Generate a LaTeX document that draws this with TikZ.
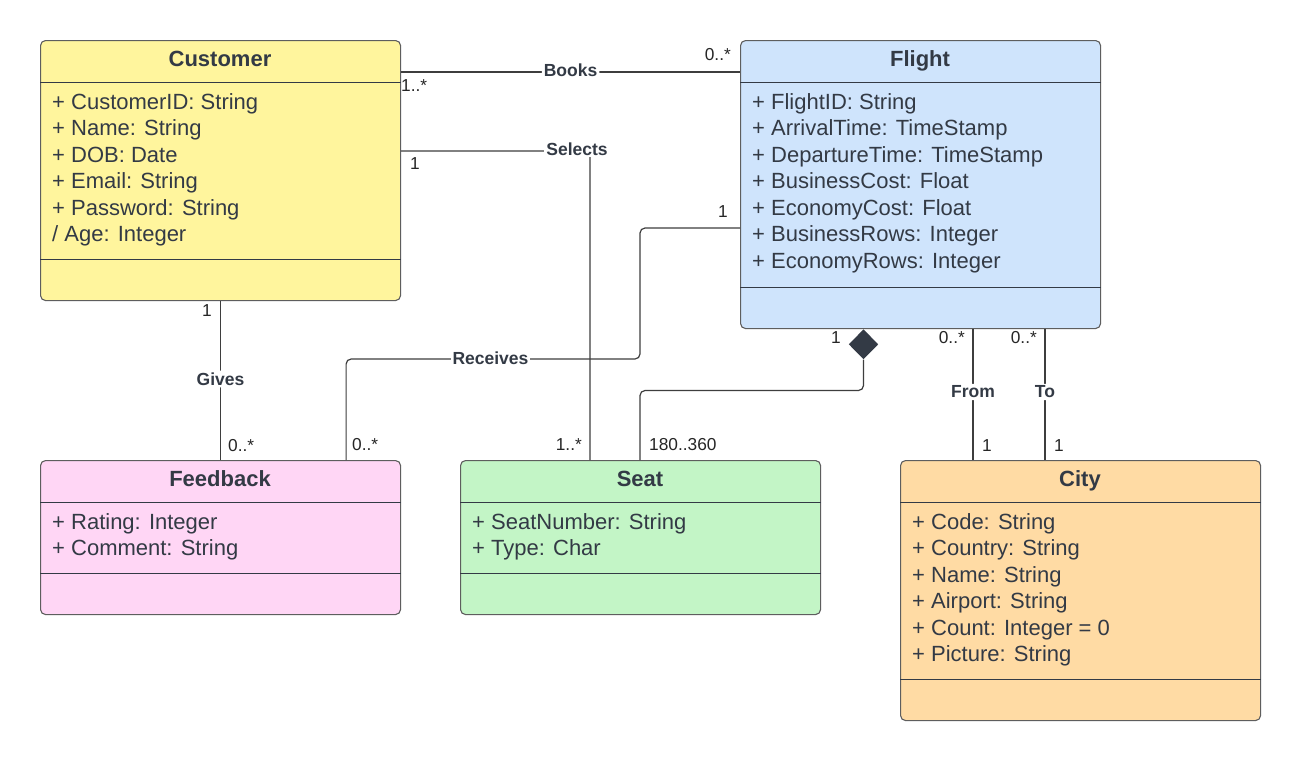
\documentclass[tikz,border=0pt]{standalone}
\usepackage{fontspec}
\setmainfont{Liberation Sans}
\usetikzlibrary{calc,shapes.geometric}
\definecolor{txt}{RGB}{51,58,69}
\definecolor{edgec}{RGB}{94,94,94}
\definecolor{lnk}{RGB}{62,62,62}
\definecolor{custfill}{RGB}{255,245,157}
\definecolor{flightfill}{RGB}{207,228,252}
\definecolor{fbfill}{RGB}{255,214,245}
\definecolor{seatfill}{RGB}{195,245,198}
\definecolor{cityfill}{RGB}{255,219,164}
\begin{document}
\begin{tikzpicture}[x=1pt,y=-1pt,
  classbox/.style={draw=edgec, line width=1.1pt, rounded corners=5pt, anchor=north west, inner sep=0pt},
  sepline/.style={draw=txt, line width=1pt},
  title/.style={font=\bfseries\fontsize{22}{26}\selectfont, text=txt, anchor=base, inner sep=0pt},
  attr/.style={font=\fontsize{22}{26}\selectfont, text=txt, anchor=base west, inner sep=0pt},
  assoc/.style={draw=lnk, line width=1.2pt, rounded corners=5pt},
  lbl/.style={font=\bfseries\fontsize{17.5}{20}\selectfont, text=txt, fill=white, inner sep=2pt},
  mult/.style={font=\fontsize{17.3}{20}\selectfont, text=black!85, inner sep=0pt}
]
\useasboundingbox[fill=white] (0,0) rectangle (1300,761);

% ---------- Customer ----------
\node[classbox, fill=custfill, minimum width=360pt, minimum height=260pt] (cust) at (40,40) {};
\draw[sepline] ([yshift=-42pt]cust.north west) -- ([yshift=-42pt]cust.north east);
\draw[sepline] ([yshift=42pt]cust.south west) -- ([yshift=42pt]cust.south east);
\node[title] (custT) at (220,66) {Customer};
\foreach \t [count=\i from 0] in {{+ CustomerID: String},{+ Name: String},{+ DOB: Date},{+ Email: String},{+ Password: String},{/ Age: Integer}}
  \node[attr] (custA\i) at (52,{109.3+26.45*\i}) {\t};

% ---------- Flight ----------
\node[classbox, fill=flightfill, minimum width=360pt, minimum height=288pt] (flight) at (740,40) {};
\draw[sepline] ([yshift=-42pt]flight.north west) -- ([yshift=-42pt]flight.north east);
\draw[sepline] ([yshift=42pt]flight.south west) -- ([yshift=42pt]flight.south east);
\node[title] (flightT) at (920,66) {Flight};
\foreach \t [count=\i from 0] in {{+ FlightID: String},{+ ArrivalTime: TimeStamp},{+ DepartureTime: TimeStamp},{+ BusinessCost: Float},{+ EconomyCost: Float},{+ BusinessRows: Integer},{+ EconomyRows: Integer}}
  \node[attr] (flightA\i) at (752,{109.3+26.45*\i}) {\t};

% ---------- Feedback ----------
\node[classbox, fill=fbfill, minimum width=360pt, minimum height=154pt] (fb) at (40,460) {};
\draw[sepline] ([yshift=-42pt]fb.north west) -- ([yshift=-42pt]fb.north east);
\draw[sepline] ([yshift=42pt]fb.south west) -- ([yshift=42pt]fb.south east);
\node[title] (fbT) at (220,486) {Feedback};
\foreach \t [count=\i from 0] in {{+ Rating: Integer},{+ Comment: String}}
  \node[attr] (fbA\i) at (52,{529.3+26.45*\i}) {\t};

% ---------- Seat ----------
\node[classbox, fill=seatfill, minimum width=360pt, minimum height=154pt] (seat) at (460,460) {};
\draw[sepline] ([yshift=-42pt]seat.north west) -- ([yshift=-42pt]seat.north east);
\draw[sepline] ([yshift=42pt]seat.south west) -- ([yshift=42pt]seat.south east);
\node[title] (seatT) at (640,486) {Seat};
\foreach \t [count=\i from 0] in {{+ SeatNumber: String},{+ Type: Char}}
  \node[attr] (seatA\i) at (472,{529.3+26.45*\i}) {\t};

% ---------- City ----------
\node[classbox, fill=cityfill, minimum width=360pt, minimum height=260pt] (city) at (900,460) {};
\draw[sepline] ([yshift=-42pt]city.north west) -- ([yshift=-42pt]city.north east);
\draw[sepline] ([yshift=42pt]city.south west) -- ([yshift=42pt]city.south east);
\node[title] (cityT) at (1080,486) {City};
\foreach \t [count=\i from 0] in {{+ Code: String},{+ Country: String},{+ Name: String},{+ Airport: String},{+ Count: Integer = 0},{+ Picture: String}}
  \node[attr] (cityA\i) at (912,{529.3+26.45*\i}) {\t};

% ---------- Connectors ----------
% Books
\draw[assoc] ([yshift=-32pt]cust.north east) -- node[lbl, yshift=1.5pt] (books) {Books} ([yshift=-32pt]flight.north west);
\node[mult, anchor=base west] (m1) at (401,91) {1..*};
\node[mult, anchor=base east] (m2) at (731,60) {0..*};

% Selects
\draw[assoc] ([yshift=-111pt]cust.north east) -| ([xshift=130pt]seat.north west);
\node[lbl] (selects) at (577,149) {Selects};
\node[mult, anchor=base west] (m3) at (410,169) {1};
\node[mult, anchor=base east] (m4) at (582,450) {1..*};

% Receives
\coordinate (rcv) at (640,359);
\draw[assoc] ([yshift=-188pt]flight.north west) -| (rcv) -| ([xshift=-55pt]fb.north east);
\node[lbl] (receives) at (490.5,358) {Receives};
\node[mult, anchor=base east] (m5) at (728,217) {1};
\node[mult, anchor=base west] (m6) at (352,450) {0..*};

% Composition
\node[diamond, fill=txt, minimum width=29.5pt, minimum height=30pt, inner sep=0pt] (dia) at (863.5,344.3) {};
\draw[assoc] (dia.south) -- ++(0,31) -| ([xshift=180pt]seat.north west);
\node[mult, anchor=base east] (m7) at (841,343) {1};
\node[mult, anchor=base west] (m8) at (649,450) {180..360};

% Gives
\draw[assoc] (cust.south) -- node[lbl, pos=0.49] (gives) {Gives} (fb.north);
\node[mult, anchor=base east] (m9) at (212,316) {1};
\node[mult, anchor=base west] (m10) at (228,451) {0..*};

% From / To
\draw[assoc] ([xshift=233pt]flight.south west) -- node[lbl, pos=0.48] (from) {From} ([xshift=73pt]city.north west);
\draw[assoc] ([xshift=305pt]flight.south west) -- node[lbl, pos=0.48] (to) {To} ([xshift=145pt]city.north west);
\node[mult, anchor=base east] (m11) at (965,343) {0..*};
\node[mult, anchor=base east] (m12) at (1037,343) {0..*};
\node[mult, anchor=base west] (m13) at (982,451) {1};
\node[mult, anchor=base west] (m14) at (1054,451) {1};
\end{tikzpicture}
\end{document}
